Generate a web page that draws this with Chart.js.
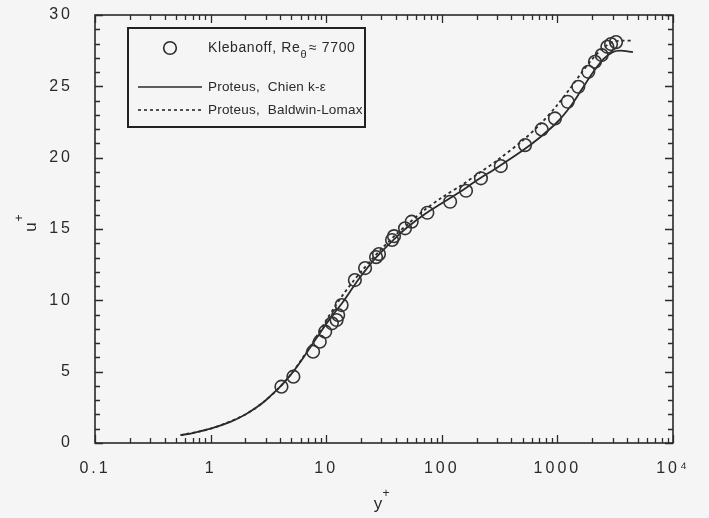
<!DOCTYPE html>
<html>
<head>
<meta charset="utf-8">
<script src="https://cdn.jsdelivr.net/npm/chart.js@4/dist/chart.umd.min.js"></script>
<style>
  html, body { margin: 0; padding: 0; background: #f5f5f5; }
  #wrap { width: 709px; height: 518px; position: relative; }
</style>
</head>
<body>
<div id="wrap"><canvas id="c" width="709" height="518"></canvas></div>
<script>
// ---- data ----
const klebanoffYPlus = [4.1, 5.2, 7.7, 8.8, 9.8, 11.2, 12.3, 12.7, 13.6, 17.7, 21.7, 27.0, 28.6, 37.1, 38.6, 48.1, 54.9, 75, 118, 162, 218, 324, 525, 731, 953, 1228, 1517, 1850, 2114, 2416, 2704, 2910, 3214];
const klebanoffUPlus = [3.95, 4.65, 6.40, 7.10, 7.80, 8.39, 8.62, 8.97, 9.67, 11.42, 12.26, 13.03, 13.24, 14.23, 14.5, 15.05, 15.51, 16.14, 16.91, 17.68, 18.55, 19.41, 20.88, 21.98, 22.75, 23.92, 24.97, 26.02, 26.72, 27.19, 27.77, 27.96, 28.10];

const chienYPlus = [0.55, 0.7, 1, 1.5, 2, 2.5, 3, 4, 5, 6, 7, 8, 9, 10, 12, 14, 17, 20, 25, 30, 40, 50, 70, 100, 150, 200, 300, 500, 700, 1000, 1300, 1600, 2000, 2500, 3000, 3500, 4500];
const chienUPlus = [0.55, 0.7, 1.0, 1.5, 2.0, 2.5, 3.0, 3.95, 4.85, 5.7, 6.5, 7.2, 7.8, 8.35, 9.2, 9.9, 10.9, 11.7, 12.7, 13.4, 14.4, 15.1, 16.0, 16.8, 17.7, 18.4, 19.3, 20.5, 21.4, 22.5, 23.6, 24.7, 25.9, 26.9, 27.4, 27.5, 27.4];

const blYPlus = [0.55, 1, 2, 3, 4, 5, 6, 8, 10, 12, 14, 17, 20, 25, 30, 40, 50, 70, 100, 150, 200, 300, 500, 700, 1000, 1300, 1600, 2000, 2500, 3000, 3500, 4500];
const blUPlus = [0.55, 1.0, 2.0, 3.0, 3.95, 4.85, 5.75, 7.3, 8.6, 9.6, 10.4, 11.3, 12.0, 12.9, 13.6, 14.6, 15.3, 16.3, 17.2, 18.1, 18.8, 19.8, 21.2, 22.3, 23.7, 24.9, 25.9, 26.9, 27.7, 28.1, 28.2, 28.2];

const xTickValues = [0.1, 1, 10, 100, 1000, 10000];
const xTickLabels = ['0.1', '1', '10', '100', '1000', '10\u2074'];
const yTickValues = [0, 5, 10, 15, 20, 25, 30];

const legendLabels = ['Klebanoff, Re', 'Proteus,  Chien k-\u03B5', 'Proteus,  Baldwin-Lomax'];

// ---- helpers ----
const toXY = (xs, ys) => xs.map((x, i) => ({ x: x, y: ys[i] }));
const INK = '#2a2a2a';
const FONT = "'Liberation Sans', Arial, Helvetica, sans-serif";

const spacingPlugin = {
  id: 'spacing',
  beforeDraw(chart) { chart.ctx.letterSpacing = '3px'; }
};

const framePlugin = {
  id: 'frame',
  afterDatasetsDraw(chart) {
    const { ctx, chartArea: a, scales } = chart;
    const xs = scales.x, ys = scales.y;
    ctx.save();
    ctx.strokeStyle = INK;
    ctx.lineWidth = 1.6;
    ctx.strokeRect(a.left, a.top, a.right - a.left, a.bottom - a.top);
    ctx.lineWidth = 1.3;
    ctx.beginPath();
    for (let d = 0.1; d <= 10000 * 1.0001; d *= 10) {
      for (let k = 1; k <= 9; k++) {
        const v = d * k;
        if (v > 10000 * 1.0001) break;
        const px = Math.round(xs.getPixelForValue(v)) + 0.5;
        const len = k === 1 ? 8 : 5;
        ctx.moveTo(px, a.bottom); ctx.lineTo(px, a.bottom - len);
        ctx.moveTo(px, a.top); ctx.lineTo(px, a.top + len);
      }
    }
    for (let v = 0; v <= 30; v++) {
      const py = Math.round(ys.getPixelForValue(v)) + 0.5;
      const len = v % 5 === 0 ? 8 : 5;
      ctx.moveTo(a.left, py); ctx.lineTo(a.left + len, py);
      ctx.moveTo(a.right, py); ctx.lineTo(a.right - len, py);
    }
    ctx.stroke();

    // axis titles
    ctx.fillStyle = INK;
    ctx.letterSpacing = '0px';
    ctx.font = '17px ' + FONT;
    ctx.textAlign = 'center';
    ctx.textBaseline = 'middle';
    ctx.fillText('y', 378, 504);
    ctx.font = '12px ' + FONT;
    ctx.fillText('+', 386, 494);
    ctx.save();
    ctx.translate(31, 227);
    ctx.rotate(-Math.PI / 2);
    ctx.font = '17px ' + FONT;
    ctx.fillText('u', 0, 0);
    ctx.font = '12px ' + FONT;
    ctx.fillText('+', 9, -11);
    ctx.restore();

    // legend
    const L = 128, T = 28, R = 365, B = 127;
    ctx.lineWidth = 2;
    ctx.strokeStyle = '#222';
    ctx.strokeRect(L, T, R - L, B - T);
    ctx.lineWidth = 1.6;
    ctx.strokeStyle = INK;
    ctx.beginPath(); ctx.arc(170, 48, 6.3, 0, Math.PI * 2); ctx.stroke();
    ctx.beginPath(); ctx.moveTo(138, 87); ctx.lineTo(202, 87); ctx.stroke();
    ctx.setLineDash([3, 3]);
    ctx.beginPath(); ctx.moveTo(138, 110); ctx.lineTo(202, 110); ctx.stroke();
    ctx.setLineDash([]);

    ctx.textAlign = 'left';
    ctx.textBaseline = 'middle';
    ctx.letterSpacing = '0.6px';
    ctx.font = '14px ' + FONT;
    let x = 208;
    ctx.fillText(legendLabels[0], x, 48);
    x += ctx.measureText(legendLabels[0]).width;
    ctx.font = '11px ' + FONT;
    ctx.fillText('\u03B8', x, 55);
    x += ctx.measureText('\u03B8').width + 2;
    ctx.font = '14px ' + FONT;
    ctx.fillText('\u2248 7700', x, 48);
    ctx.letterSpacing = '0.2px';
    ctx.font = '13.5px ' + FONT;
    ctx.fillText(legendLabels[1], 208, 87);
    ctx.fillText(legendLabels[2], 208, 110);
    ctx.restore();
  }
};

new Chart(document.getElementById('c'), {
  type: 'scatter',
  data: {
    datasets: [
      {
        label: 'Klebanoff',
        data: toXY(klebanoffYPlus, klebanoffUPlus),
        showLine: false,
        pointStyle: 'circle',
        pointRadius: 6.3,
        pointBorderWidth: 1.6,
        pointBorderColor: '#333',
        pointBackgroundColor: 'rgba(0,0,0,0)'
      },
      {
        label: 'Chien',
        data: toXY(chienYPlus, chienUPlus),
        showLine: true,
        borderColor: INK,
        borderWidth: 1.8,
        pointRadius: 0,
        tension: 0.3
      },
      {
        label: 'Baldwin-Lomax',
        data: toXY(blYPlus, blUPlus),
        showLine: true,
        borderColor: INK,
        borderWidth: 1.8,
        borderDash: [3, 3],
        pointRadius: 0,
        tension: 0.3
      }
    ]
  },
  options: {
    responsive: false,
    animation: false,
    devicePixelRatio: 1,
    layout: { padding: { left: 0, right: 36, top: 15, bottom: 0 } },
    plugins: { legend: { display: false }, tooltip: { enabled: false } },
    scales: {
      x: {
        type: 'logarithmic',
        min: 0.1, max: 10000,
        grid: { display: false, drawTicks: false },
        border: { display: false },
        afterBuildTicks: (s) => { s.ticks = xTickValues.map(v => ({ value: v })); },
        afterFit: (s) => { s.height = 75; s.paddingLeft = 0; s.paddingRight = 0; },
        ticks: {
          autoSkip: false,
          maxRotation: 0,
          padding: 16,
          color: INK,
          font: { family: FONT, size: 16 },
          callback: (v) => { const i = xTickValues.findIndex(t => Math.abs(t - v) / t < 1e-6); return i >= 0 ? xTickLabels[i] : ''; }
        }
      },
      y: {
        type: 'linear',
        min: 0, max: 30,
        grid: { display: false, drawTicks: false },
        border: { display: false },
        afterBuildTicks: (s) => { s.ticks = yTickValues.map(v => ({ value: v })); },
        afterFit: (s) => { s.width = 95; s.paddingTop = 0; s.paddingBottom = 0; },
        ticks: {
          padding: 22,
          color: INK,
          font: { family: FONT, size: 16 }
        }
      }
    }
  },
  plugins: [spacingPlugin, framePlugin]
});
</script>
</body>
</html>
